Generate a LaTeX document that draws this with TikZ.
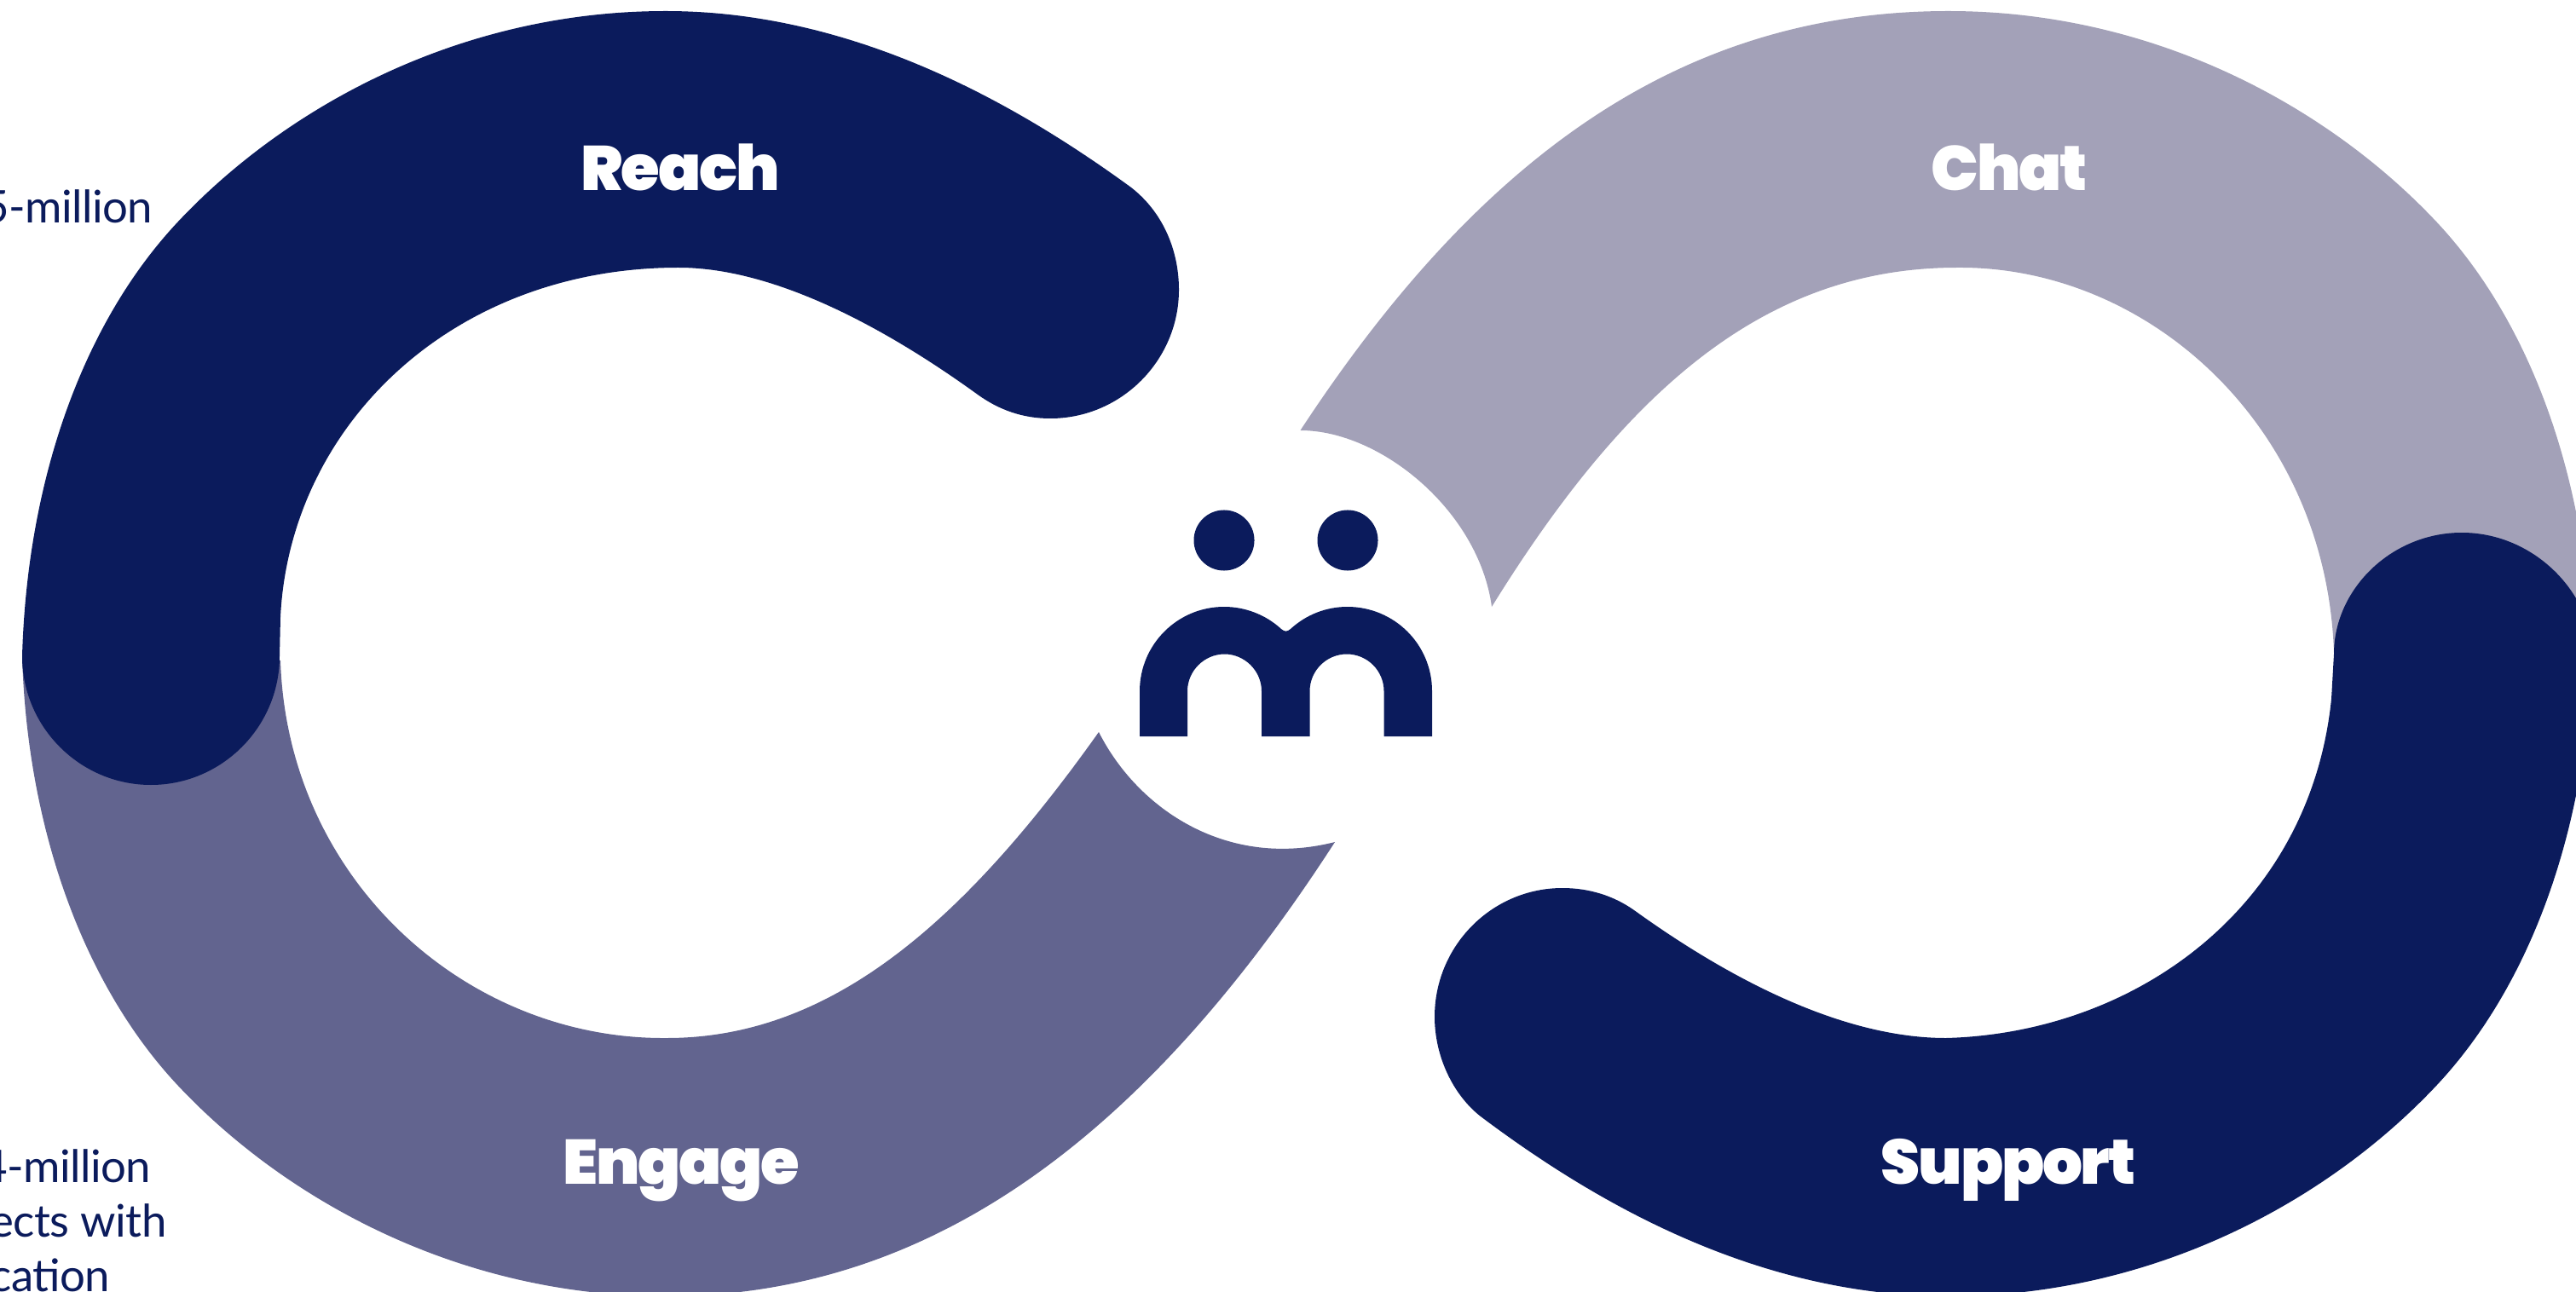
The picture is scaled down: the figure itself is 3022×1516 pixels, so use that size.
\documentclass[tikz,border=0pt]{standalone}
\usepackage{fontspec}
\setmainfont{Lato}[LetterSpace=-1]
\newfontfamily\labelfont{Poppins Black}[LetterSpace=-3]
\definecolor{navy}{RGB}{11,27,92}
\definecolor{midblue}{RGB}{98,100,143}
\definecolor{paleblue}{RGB}{163,161,184}
\tikzset{
  band/.style={fill=#1,draw=none},
  lobe/.style={text=white,anchor=base,inner sep=0pt,font=\labelfont\fontsize{21pt}{24pt}\selectfont},
  bodytext/.style={text=navy,anchor=base east,inner sep=0pt,font=\fontsize{15pt}{18pt}\selectfont},
  eye/.style={circle,fill=navy,draw=none,minimum size=0.71cm,inner sep=0pt},
}
\begin{document}
\begin{tikzpicture}[x=0.01cm,y=-0.01cm]
\useasboundingbox (0,0) rectangle (3022,1516);
\clip (0,0) rectangle (3022,1516);
% Chat
\path[band=paleblue] (1525.5,505) .. controls (1745,170) and (1985,13) .. (2286,13)
  .. controls (2527,13) and (2731,125) .. (2858,260)
  .. controls (2968,377) and (3035,560) .. (3041,770) -- (2888,776) -- (2738,767)
  .. controls (2730,500) and (2520,312) .. (2296,314)
  .. controls (2080,314) and (1915,445) .. (1750,712)
  .. controls (1735,600) and (1620,505) .. (1525.5,505) -- cycle;
% Engage
\path[band=midblue] (1566,988) .. controls (1345,1330) and (1095,1521) .. (781,1521)
  .. controls (540,1521) and (336,1409) .. (209,1274)
  .. controls (99,1157) and (32,974) .. (26,770) -- (177,770) -- (329,775)
  .. controls (337,1032) and (547,1220) .. (782,1218)
  .. controls (970,1218) and (1125,1090) .. (1289,859)
  .. controls (1335,950) and (1440,1020) .. (1566,988) -- cycle;
% Reach
\path[band=navy] (26,770) .. controls (32,560) and (99,377) .. (209,260)
  .. controls (336,125) and (540,13) .. (781,13)
  .. controls (1000,13) and (1190,120) .. (1327,220)
  .. controls (1363,248) and (1383,292) .. (1383,340)
  .. controls (1383,423) and (1315,491) .. (1232,491)
  .. controls (1200,491) and (1172,481) .. (1147,463)
  .. controls (1060,400) and (920,314) .. (796,314)
  .. controls (530,314) and (340,500) .. (329,724) -- (328,770)
  .. controls (328,853) and (260,921) .. (177,921)
  .. controls (94,921) and (26,853) .. (26,770) -- cycle;
% Support
\path[band=navy] (2738,767) .. controls (2738,692) and (2805,625) .. (2888,625)
  .. controls (2971,625) and (3038,693) .. (3041,764)
  .. controls (3035,974) and (2968,1157) .. (2858,1274)
  .. controls (2731,1409) and (2527,1521) .. (2286,1521)
  .. controls (2060,1521) and (1870,1410) .. (1737,1310)
  .. controls (1705,1285) and (1683,1240) .. (1683,1193)
  .. controls (1683,1110) and (1750,1042) .. (1833,1042)
  .. controls (1864,1042) and (1893,1051) .. (1917,1068)
  .. controls (2010,1135) and (2150,1218) .. (2283,1218)
  .. controls (2505,1212) and (2710,1065) .. (2735,820) -- cycle;
% Logo
\node[eye] (eyeL) at (1436,634) {};
\node[eye] (eyeR) at (1581,634) {};
\path[band=navy] (1337,864) -- (1337,811) .. controls (1337,756.3) and (1381.3,712) .. (1436,712)
  .. controls (1460.7,712) and (1484.8,721.3) .. (1503,738)
  .. controls (1507,741.5) and (1510,741.5) .. (1514,738)
  .. controls (1532.2,721.3) and (1555.8,712) .. (1580.5,712)
  .. controls (1635.5,712) and (1680,756) .. (1680,811) -- (1680,864) -- (1623.5,864) -- (1623.5,811)
  .. controls (1623.5,787) and (1604,767.5) .. (1580,767.5)
  .. controls (1556,767.5) and (1536.5,787) .. (1536.5,811) -- (1536.5,864) -- (1480,864) -- (1480,811)
  .. controls (1480,787) and (1460,767.5) .. (1436.5,767.5)
  .. controls (1413,767.5) and (1393,787) .. (1393,811) -- (1393,864) -- cycle;
% Labels
\node[lobe] (reach) at (798,224) {Reach};
\node[lobe] (chat) at (2357,224) {Chat};
\node[lobe] (engage) at (799,1389) {Engage};
\node[lobe] (support) at (2356,1389) {Support};
\node[bodytext] (t1) at (180,262) {5-million};
\node[bodytext] (t2) at (178,1387) {4-million};
\node[bodytext] (t3) at (196,1451) {ects with};
\node[bodytext] (t4) at (130,1515) {cation};
\end{tikzpicture}
\end{document}
